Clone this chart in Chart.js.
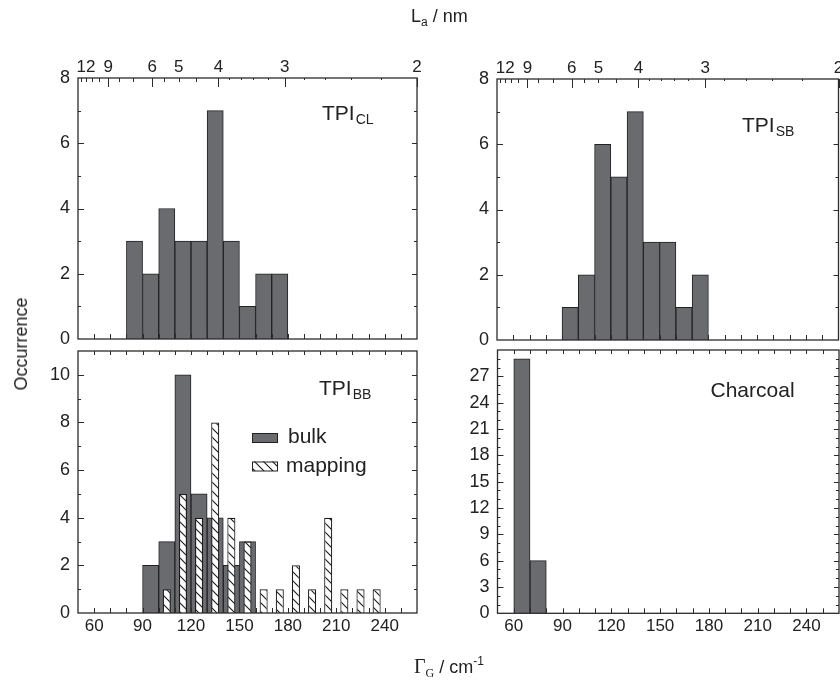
<!DOCTYPE html>
<html>
<head>
<meta charset="utf-8">
<script src="https://cdn.jsdelivr.net/npm/chart.js@4.4.1/dist/chart.umd.min.js"></script>
<style>
  html, body { margin: 0; padding: 0; background: #fff; }
  #wrap { position: relative; width: 840px; height: 684px; overflow: hidden;
          font-family: "Liberation Sans", Arial, sans-serif; color: #222; }
  #wrap canvas { position: absolute; left: 0; top: 0; }
  .title { position: absolute; font-size: 18px; white-space: nowrap; line-height: 1; }
  .title sub { font-size: 12px; vertical-align: -4px; }
  .title sup { font-size: 12px; vertical-align: 8px; }
  .serif { font-family: "Liberation Serif", "Times New Roman", serif; font-size: 20px; }
  #topTitle { left: 411px; top: 7px; }
  #yTitle { left: 21px; top: 344px; transform: translate(-50%, -50%) rotate(-90deg); font-size: 18px; }
  #xTitle { left: 414px; top: 655px; }
</style>
</head>
<body>
<div id="wrap">
  <canvas id="tl" width="840" height="684"></canvas>
  <canvas id="tr" width="840" height="684"></canvas>
  <canvas id="bl" width="840" height="684"></canvas>
  <canvas id="br" width="840" height="684"></canvas>
  <div class="title" id="topTitle">L<sub>a</sub> / nm</div>
  <div class="title" id="yTitle">Occurrence</div>
  <div class="title" id="xTitle"><span class="serif">Γ<sub>G</sub></span> / cm<sup>-1</sup></div>
</div>
<script>
// histogram bins (centre of each 10 cm-1 bin) and counts
const clBins = [85, 95, 105, 115, 125, 135, 145, 155, 165, 175];
const clCounts = [3, 2, 4, 3, 3, 7, 3, 1, 2, 2];

const sbBins = [95, 105, 115, 125, 135, 145, 155, 165, 175];
const sbCounts = [1, 2, 6, 5, 7, 3, 3, 1, 2];

const bulkBins = [95, 105, 115, 125, 135, 145, 155];
const bulkCounts = [2, 3, 10, 5, 4, 2, 3];

const mapBins = [105, 115, 125, 135, 145, 155, 165, 175, 185, 195, 205, 215, 225, 235];
const mapCounts = [1, 5, 4, 8, 4, 3, 1, 1, 2, 1, 4, 1, 1, 1];

const charBins = [65, 75];
const charCounts = [29, 6];

// tick labels
const gammaLabels = [60, 90, 120, 150, 180, 210, 240];
const gammaMinor = [60, 70, 80, 90, 100, 110, 120, 130, 140, 150, 160, 170, 180, 190, 200, 210, 220, 230, 240, 250];
const laLabels = [12, 9, 6, 5, 4, 3, 2];
const laLong = [9, 6, 4, 3, 2];
const laMid = [13, 12, 11, 10, 8, 7, 5.5, 5, 4.5];
const laTiny = [3.8, 3.6, 3.4, 3.2, 2.8, 2.6, 2.4, 2.2];
const yTop = [0, 2, 4, 6, 8];
const yBB = [0, 2, 4, 6, 8, 10];
const yChar = [0, 3, 6, 9, 12, 15, 18, 21, 24, 27, 30];

// G band width <-> crystallite size
const laToGamma = L => 14 + 492 / L;

const FONT = '"Liberation Sans", Arial, sans-serif';
const INK = '#2b2b2b';
const BAR = '#6a6b6f';

function hatch() {
  const c = document.createElement('canvas');
  c.width = 9; c.height = 9;
  const g = c.getContext('2d');
  g.fillStyle = '#fff';
  g.fillRect(0, 0, 9, 9);
  g.strokeStyle = '#1a1a1a';
  g.lineWidth = 1.1;
  g.beginPath();
  g.moveTo(-1, -1); g.lineTo(10, 10);
  g.moveTo(-1, 8); g.lineTo(1, 10);
  g.moveTo(8, -1); g.lineTo(10, 1);
  g.stroke();
  return g.createPattern(c, 'repeat');
}
const hatchFill = hatch();

const pts = (bins, counts) => bins.map((x, i) => ({ x, y: counts[i] }));

// frame, inward ticks, panel label, legend
const deco = {
  id: 'deco',
  afterDatasetsDraw(chart, args, o) {
    const { ctx, chartArea: a, scales } = chart;
    const x = scales.x, y = scales.y;
    ctx.save();
    ctx.strokeStyle = INK;
    ctx.lineWidth = 1;
    ctx.beginPath();
    gammaMinor.forEach(v => {
      const px = Math.round(x.getPixelForValue(v)) + 0.5;
      ctx.moveTo(px, a.bottom); ctx.lineTo(px, a.bottom - 5);
      if (!o.laAxis) { ctx.moveTo(px, a.top); ctx.lineTo(px, a.top + 4); }
    });
    for (let v = 1; v < o.yMax; v++) {
      const py = Math.round(y.getPixelForValue(v)) + 0.5;
      const major = o.yTicks.includes(v);
      ctx.moveTo(a.left, py); ctx.lineTo(a.left + (major ? 6 : 3), py);
      ctx.moveTo(a.right, py); ctx.lineTo(a.right - (major ? 5 : 3), py);
    }
    if (o.laAxis) {
      const tick = (L, len) => {
        const px = Math.round(x.getPixelForValue(laToGamma(L))) + 0.5;
        ctx.moveTo(px, a.top); ctx.lineTo(px, a.top + len);
      };
      laLong.forEach(L => tick(L, 9));
      laMid.forEach(L => tick(L, 4));
      laTiny.forEach(L => tick(L, 2));
    }
    ctx.stroke();
    ctx.lineWidth = 1.3;
    ctx.strokeRect(a.left, a.top, a.right - a.left, a.bottom - a.top);

    ctx.fillStyle = '#222';
    ctx.textBaseline = 'alphabetic';
    ctx.font = '21px ' + FONT;
    const lx = a.left + o.label.dx, ly = a.top + o.label.dy;
    ctx.fillText(o.label.main, lx, ly);
    if (o.label.sub) {
      const w = ctx.measureText(o.label.main).width;
      ctx.font = '14px ' + FONT;
      ctx.fillText(o.label.sub, lx + w + 1, ly + 4);
    }

    if (o.legend) {
      chart.data.datasets.forEach((ds, i) => {
        const bx = a.left + 174, by = a.top + 82 + i * 28.5;
        ctx.fillStyle = ds.backgroundColor;
        ctx.fillRect(bx, by, 26, 9.5);
        ctx.lineWidth = 1;
        ctx.strokeStyle = '#222';
        ctx.strokeRect(bx + 0.5, by + 0.5, 25, 9);
        ctx.fillStyle = '#222';
        ctx.font = '21px ' + FONT;
        ctx.textBaseline = 'middle';
        ctx.fillText(ds.label, bx + (i === 0 ? 36 : 34), by + 4.5);
      });
    }
    ctx.restore();
  }
};

function panel(id, datasets, o) {
  const scales = {
    x: {
      type: 'linear', min: 50, max: 260, offset: false,
      grid: { display: false, drawTicks: false }, border: { display: false },
      afterBuildTicks: s => { s.ticks = gammaLabels.map(v => ({ value: v })); },
      afterFit: s => { s.height = 30; s.paddingLeft = 0; s.paddingRight = 0; },
      ticks: { display: o.showX, autoSkip: false, maxRotation: 0, padding: 3,
               color: '#222', font: { family: FONT, size: 17 } }
    },
    y: {
      min: 0, max: o.yMax,
      grid: { display: false, drawTicks: false }, border: { display: false },
      afterBuildTicks: s => { s.ticks = o.yTicks.map(v => ({ value: v })); },
      afterFit: s => { s.width = 40; s.paddingTop = 0; s.paddingBottom = 0; },
      ticks: { padding: 8, color: '#222', font: { family: FONT, size: 18 },
               callback: v => (v === 30 ? '' : v) }
    }
  };
  if (o.laAxis) {
    scales.x2 = {
      type: 'linear', position: 'top', min: 50, max: 260, offset: false,
      grid: { display: false, drawTicks: false }, border: { display: false },
      afterBuildTicks: s => { s.ticks = laLabels.map(L => ({ value: laToGamma(L) })); },
      afterFit: s => { s.height = 30; s.paddingLeft = 0; s.paddingRight = 0; },
      ticks: { autoSkip: false, maxRotation: 0, padding: 0, color: '#222',
               font: { family: FONT, size: 17 }, callback: (v, i) => laLabels[i] }
    };
  }
  return new Chart(document.getElementById(id), {
    type: 'bar',
    data: { datasets },
    options: {
      responsive: false,
      animation: false,
      events: [],
      layout: { padding: o.padding },
      plugins: { legend: { display: false }, tooltip: { enabled: false }, deco: o },
      scales
    },
    plugins: [deco]
  });
}

const solid = (label, data) => ({
  label, data, backgroundColor: BAR, borderColor: '#222', borderWidth: 1,
  barPercentage: 1, categoryPercentage: 1, grouped: false, order: 1
});

panel('tl', [solid('TPI CL', pts(clBins, clCounts))], {
  padding: { left: 38, top: 48, right: 423, bottom: 315 },
  yMax: 8, yTicks: yTop, showX: false, laAxis: true,
  label: { main: 'TPI', sub: 'CL', dx: 244, dy: 42 }
});

panel('tr', [solid('TPI SB', pts(sbBins, sbCounts))], {
  padding: { left: 457, top: 49, right: 1.5, bottom: 314 },
  yMax: 8, yTicks: yTop, showX: false, laAxis: true,
  label: { main: 'TPI', sub: 'SB', dx: 245, dy: 53 }
});

panel('bl', [
  solid('bulk', pts(bulkBins, bulkCounts)),
  { label: 'mapping', data: pts(mapBins, mapCounts), backgroundColor: hatchFill,
    borderColor: '#1a1a1a', borderWidth: 1.2, barPercentage: 0.5, categoryPercentage: 1,
    grouped: false, order: 0 }
], {
  padding: { left: 38, top: 351, right: 423, bottom: 41 },
  yMax: 11, yTicks: yBB, showX: true, laAxis: false, legend: true,
  label: { main: 'TPI', sub: 'BB', dx: 241, dy: 44 }
});

panel('br', [solid('Charcoal', pts(charBins, charCounts))], {
  padding: { left: 457.5, top: 350, right: 1, bottom: 40.7 },
  yMax: 30, yTicks: yChar, showX: true, laAxis: false,
  label: { main: 'Charcoal', dx: 213, dy: 47 }
});
</script>
</body>
</html>
